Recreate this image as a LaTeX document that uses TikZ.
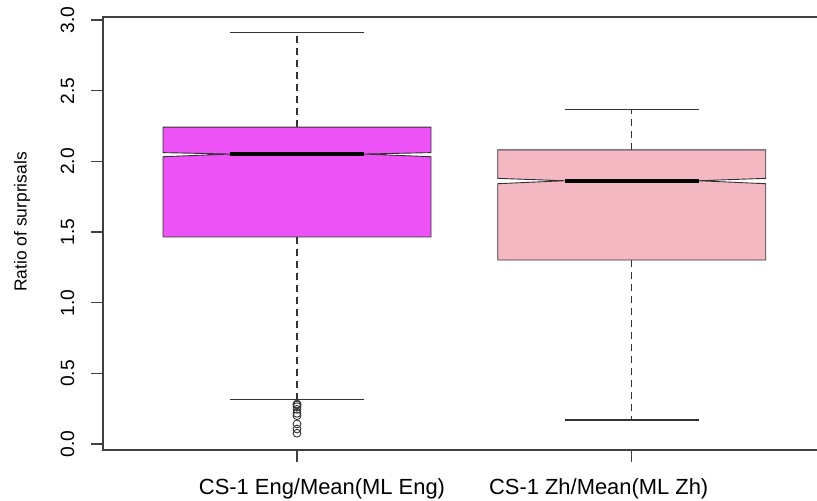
\documentclass[tikz,border=0pt]{standalone}
\usepackage{fontspec}
\setmainfont{Liberation Sans}
\usepackage{xcolor}
\usetikzlibrary{positioning}

\definecolor{engfill}{RGB}{236,82,246}
\definecolor{zhfill}{RGB}{244,184,195}
\tikzset{
    axisline/.style={line width=1.3bp, black!75},
    boxedge/.style={line width=0.9bp, black!80},
    whisk/.style={line width=1.1bp, black!80},
    whiskdash/.style={line width=1.1bp, black!80, dash pattern=on 7bp off 5bp},
    medline/.style={line width=3.8bp, black},
    outlier/.style={line width=0.9bp, black!80},
    ticklab/.style={rotate=90, anchor=base, inner sep=0pt, font=\fontsize{19.3}{23}\selectfont},
    axislab/.style={rotate=90, anchor=base, inner sep=0pt, font=\fontsize{17.5}{21}\selectfont},
    grouplab/.style={anchor=base, inner sep=0pt, font=\fontsize{22}{26}\selectfont},
}

\begin{document}
\begin{tikzpicture}[x=1bp, y=1bp]
    \useasboundingbox (0,0) rectangle (817,501);
    \clip (0,0) rectangle (817,501);
    \draw[axisline] (830,484) -- (103,484) -- (103,51) -- (830,51);

    % value axis, one unit of data = 141.3bp
    \begin{scope}[y=141.3bp, yshift=57bp]
        \draw[axisline] (91,0) -- (103,0);
        \draw[axisline] (91,0.5) -- (103,0.5);
        \draw[axisline] (91,1) -- (103,1);
        \draw[axisline] (91,1.5) -- (103,1.5);
        \draw[axisline] (91,2) -- (103,2);
        \draw[axisline] (91,2.5) -- (103,2.5);
        \draw[axisline] (91,3) -- (103,3);
        \node[ticklab] (lab00) at (74,0) {0.0};
        \node[ticklab] (lab05) at (74,0.5) {0.5};
        \node[ticklab] (lab10) at (74,1) {1.0};
        \node[ticklab] (lab15) at (74,1.5) {1.5};
        \node[ticklab] (lab20) at (74,2) {2.0};
        \node[ticklab] (lab25) at (74,2.5) {2.5};
        \node[ticklab] (lab30) at (74,3) {3.0};
        \node[axislab] (ylab) at (26.7,1.571) {Ratio of surprisals};

        % CS-1 Eng box
        \draw[whiskdash] (297,2.243) -- (297,2.909);
        \draw[whiskdash] (297,1.465) -- (297,0.313);
        \draw[whisk] (230,2.909) -- (364,2.909);
        \draw[whisk] (230,0.313) -- (364,0.313);
        \draw[boxedge, fill=engfill] (163,1.465) -- (163,2.033) -- (230,2.052) -- (163,2.062)
            -- (163,2.243) -- (431,2.243) -- (431,2.062) -- (364,2.052) -- (431,2.033)
            -- (431,1.465) -- cycle;
        \draw[medline] (230,2.052) -- (364,2.052);
        \foreach \v in {0.283,0.276,0.264,0.245,0.217,0.2,0.142,0.106,0.076}
            \draw[outlier] (297,\v) circle[radius=3.9bp];

        % CS-1 Zh box
        \draw[whiskdash] (631.7,2.081) -- (631.7,2.369);
        \draw[whiskdash] (631.7,1.302) -- (631.7,0.170);
        \draw[whisk] (564.7,2.369) -- (698.7,2.369);
        \draw[whisk] (564.7,0.170) -- (698.7,0.170);
        \draw[boxedge, fill=zhfill] (497.7,1.302) -- (497.7,1.842) -- (564.7,1.863) -- (497.7,1.880)
            -- (497.7,2.081) -- (765.7,2.081) -- (765.7,1.880) -- (698.7,1.863) -- (765.7,1.842)
            -- (765.7,1.302) -- cycle;
        \draw[medline] (564.7,1.863) -- (698.7,1.863);
    \end{scope}

    % group axis
    \draw[axisline] (297,51) -- (297,39);
    \draw[axisline] (631.7,51) -- (631.7,39);
    \node[grouplab] (eng) at (322,6) {CS-1 Eng/Mean(ML Eng)};
    \node[grouplab] (zh) at (598.7,6) {CS-1 Zh/Mean(ML Zh)};
\end{tikzpicture}
\end{document}
